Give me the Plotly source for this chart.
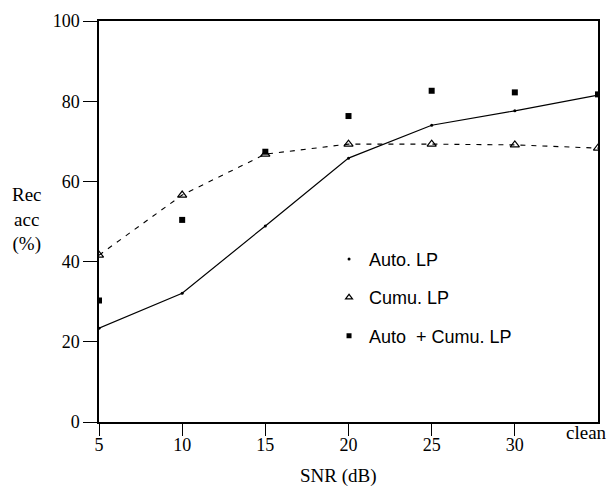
import plotly.graph_objects as go

snr = [5, 10, 15, 20, 25, 30, 35]
x_tick_vals = [5, 10, 15, 20, 25, 30]
x_tick_text = ["5", "10", "15", "20", "25", "30"]
clean_label = "clean"
auto_lp = [23.4, 32.1, 48.9, 65.8, 74.0, 77.6, 81.5]
cumu_lp = [41.6, 56.6, 66.8, 69.3, 69.3, 69.1, 68.3]
auto_cumu_lp = [30.3, 50.4, 67.4, 76.3, 82.6, 82.2, 81.7]
y_tick_vals = [0, 20, 40, 60, 80, 100]

SERIF = "Liberation Serif"
SANS = "Liberation Sans"

fig = go.Figure()
fig.add_trace(go.Scatter(x=snr, y=auto_lp, mode="lines+markers",
                         line=dict(color="black", width=1.2),
                         marker=dict(symbol="circle", size=3, color="black"),
                         showlegend=False))
fig.add_trace(go.Scatter(x=snr, y=cumu_lp, mode="lines+markers",
                         line=dict(color="black", width=1.1, dash="5px,6px"),
                         marker=dict(symbol="triangle-up-open", size=8, color="black",
                                     line=dict(width=1.2, color="black")),
                         showlegend=False))
fig.add_trace(go.Scatter(x=snr, y=auto_cumu_lp, mode="markers",
                         marker=dict(symbol="square", size=6, color="black"),
                         showlegend=False))

# legend-only entries (markers only, like the reference key)
fig.add_trace(go.Scatter(x=[None], y=[None], mode="markers", name="Auto. LP",
                         legendgroup="a",
                         marker=dict(symbol="circle", size=3, color="black")))
fig.add_trace(go.Scatter(x=[None], y=[None], mode="markers", name="Cumu. LP",
                         legendgroup="b",
                         marker=dict(symbol="triangle-up-open", size=6, color="black",
                                     line=dict(width=1.2, color="black"))))
fig.add_trace(go.Scatter(x=[None], y=[None], mode="markers", name="Auto  + Cumu. LP",
                         legendgroup="c",
                         marker=dict(symbol="square", size=5, color="black")))

fig.update_layout(
    width=611, height=489,
    margin=dict(l=99, r=11, t=21, b=67),
    paper_bgcolor="white", plot_bgcolor="white",
    font=dict(family=SERIF, size=18, color="black"),
    legend=dict(x=0.461, y=0.452, xanchor="left", yanchor="top",
                bgcolor="rgba(0,0,0,0)", font=dict(family=SANS, size=18),
                tracegroupgap=12),
    xaxis=dict(range=[5, 35], tickvals=x_tick_vals, ticktext=x_tick_text,
               ticks="outside", ticklen=12, tickwidth=1, tickcolor="black",
               ticklabelstandoff=-6,
               showline=True, linecolor="black", linewidth=1.5, mirror=True,
               showgrid=False, zeroline=False,
               tickfont=dict(family=SERIF, size=18)),
    yaxis=dict(range=[0, 100], tickvals=y_tick_vals,
               ticks="outside", ticklen=14, tickwidth=1, tickcolor="black",
               showline=True, linecolor="black", linewidth=1.5, mirror=True,
               showgrid=False, zeroline=False,
               tickfont=dict(family=SERIF, size=18)),
    annotations=[
        dict(text=clean_label, x=35, xref="x", y=0, yref="paper",
             xanchor="center", yanchor="top", xshift=-12, yshift=2,
             showarrow=False, font=dict(family=SERIF, size=19)),
        dict(text="SNR (dB)", x=0.48, xref="paper", y=-0.167, yref="paper",
             xanchor="center", yanchor="bottom", showarrow=False,
             font=dict(family=SERIF, size=19)),
        dict(text="Rec<br>acc<br>(%)", x=-0.144, xref="paper", y=0.504, yref="paper",
             xanchor="center", yanchor="middle", showarrow=False, align="center",
             font=dict(family=SERIF, size=19)),
    ],
)

fig.write_html("out.html")
